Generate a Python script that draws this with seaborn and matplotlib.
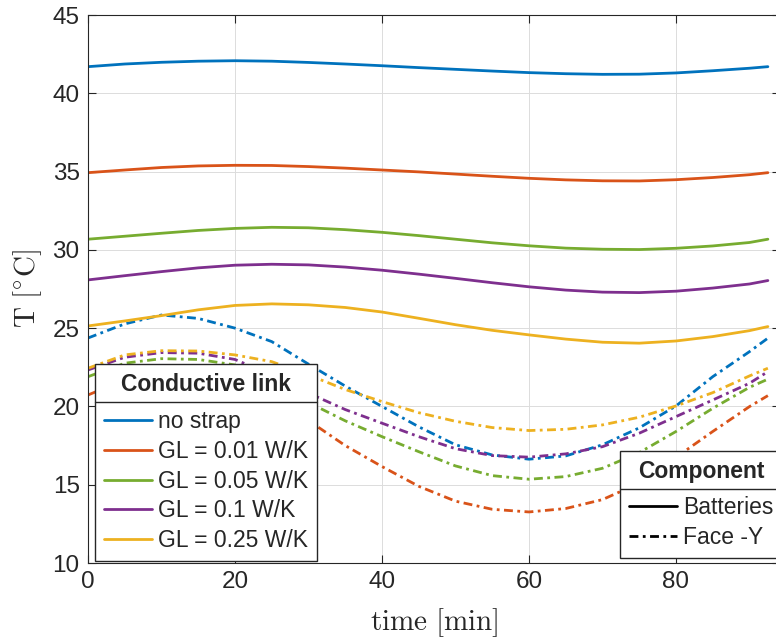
import numpy as np
import pandas as pd
import matplotlib
matplotlib.use('Agg')
import matplotlib.pyplot as plt
from matplotlib.lines import Line2D
import seaborn as sns

# --- Data ---
time_min = [0, 5, 10, 15, 20, 25, 30, 35, 40, 45, 50, 55, 60, 65, 70, 75, 80, 85, 90, 92.5]

link_labels = ['no strap', 'GL = 0.01 W/K', 'GL = 0.05 W/K', 'GL = 0.1 W/K', 'GL = 0.25 W/K']
component_labels = ['Batteries', 'Face -Y']

# Batteries (solid)
bat_no_strap = [41.70, 41.87, 41.98, 42.05, 42.08, 42.05, 41.97, 41.87, 41.76, 41.64,
                41.53, 41.42, 41.32, 41.25, 41.21, 41.22, 41.30, 41.44, 41.60, 41.70]
bat_gl001 = [34.93, 35.10, 35.26, 35.36, 35.40, 35.39, 35.32, 35.22, 35.10, 34.98,
             34.84, 34.70, 34.57, 34.47, 34.41, 34.40, 34.48, 34.62, 34.80, 34.93]
bat_gl005 = [30.68, 30.87, 31.06, 31.24, 31.37, 31.44, 31.41, 31.29, 31.12, 30.91,
             30.68, 30.45, 30.26, 30.11, 30.04, 30.02, 30.10, 30.25, 30.47, 30.68]
bat_gl01 = [28.08, 28.35, 28.61, 28.85, 29.02, 29.08, 29.04, 28.90, 28.70, 28.45,
            28.18, 27.90, 27.64, 27.43, 27.30, 27.27, 27.36, 27.56, 27.82, 28.04]
bat_gl025 = [25.14, 25.46, 25.80, 26.17, 26.45, 26.55, 26.49, 26.32, 26.03, 25.63,
             25.22, 24.86, 24.57, 24.30, 24.10, 24.04, 24.18, 24.46, 24.84, 25.10]

# Face -Y (dash-dot)
face_no_strap = [24.37, 25.27, 25.84, 25.62, 25.00, 24.14, 22.70, 21.30, 20.00, 18.70,
                 17.55, 16.90, 16.63, 16.84, 17.55, 18.63, 20.03, 21.90, 23.50, 24.36]
face_gl001 = [20.73, 21.70, 22.20, 22.10, 21.50, 20.40, 19.10, 17.50, 16.16, 14.90,
              13.95, 13.43, 13.26, 13.48, 14.05, 15.10, 16.75, 18.40, 19.99, 20.69]
face_gl005 = [21.90, 22.76, 23.05, 23.00, 22.65, 21.55, 20.25, 19.08, 18.07, 17.11,
              16.20, 15.58, 15.35, 15.52, 16.05, 17.05, 18.40, 19.88, 21.22, 21.74]
face_gl01 = [22.33, 23.14, 23.44, 23.40, 23.00, 22.00, 20.85, 19.80, 18.93, 18.07,
             17.30, 16.86, 16.76, 16.97, 17.43, 18.29, 19.35, 20.41, 21.48, 22.22]
face_gl025 = [22.44, 23.29, 23.56, 23.54, 23.29, 22.86, 22.01, 21.08, 20.31, 19.60,
              19.05, 18.65, 18.46, 18.54, 18.82, 19.31, 20.03, 20.88, 21.95, 22.44]

batteries = [bat_no_strap, bat_gl001, bat_gl005, bat_gl01, bat_gl025]
face_y = [face_no_strap, face_gl001, face_gl005, face_gl01, face_gl025]

# MATLAB default colour order
colors = ['#0072BD', '#D95319', '#77AC30', '#7E2F8E', '#EDB120']

# --- Long-form table for seaborn ---
rows = []
for lab, bat, face in zip(link_labels, batteries, face_y):
    for t, b, f in zip(time_min, bat, face):
        rows.append({'time': t, 'T': b, 'link': lab, 'component': 'Batteries'})
        rows.append({'time': t, 'T': f, 'link': lab, 'component': 'Face -Y'})
df = pd.DataFrame(rows)

# --- Style ---
sns.set_style('ticks')
plt.rcParams['font.family'] = ['Liberation Sans', 'DejaVu Sans']
plt.rcParams['mathtext.fontset'] = 'cm'
plt.rcParams['axes.edgecolor'] = '#262626'
plt.rcParams['xtick.color'] = '#262626'
plt.rcParams['ytick.color'] = '#262626'

dash_dot = (3.2, 1.6, 1.0, 1.6)
line_w = 2.0
leg_fs = 16.5

fig = plt.figure(figsize=(7.76, 6.41), dpi=100)
ax = fig.add_axes([88 / 776, 78 / 641, 692 / 776, 548 / 641])

sns.lineplot(data=df, x='time', y='T', hue='link', style='component',
             hue_order=link_labels, style_order=component_labels,
             palette=colors, dashes={'Batteries': '', 'Face -Y': dash_dot},
             linewidth=line_w, legend=False, ax=ax, estimator=None, sort=False)

ax.set_xlim(0, 692 / 7.35)
ax.set_ylim(10, 45)
ax.set_xticks([0, 20, 40, 60, 80])
ax.set_yticks([10, 15, 20, 25, 30, 35, 40, 45])
ax.tick_params(direction='in', top=True, right=True, labelsize=17.5, length=6, width=0.8, pad=6)
for s in ax.spines.values():
    s.set_linewidth(0.8)
ax.grid(True, color='#dcdcdc', linewidth=0.7)
ax.set_axisbelow(True)

ax.set_xlabel(r'$\mathrm{time}\ [\mathrm{min}]$', fontsize=21, color='#262626', labelpad=9)
ax.set_ylabel(r'$\mathrm{T}\ [^{\circ}\mathrm{C}]$', fontsize=21, color='#262626', labelpad=6)

# --- Legends ---
leg_kw = dict(loc='lower left', borderaxespad=0, fontsize=leg_fs,
              title_fontproperties={'weight': 'bold', 'size': leg_fs},
              frameon=True, fancybox=False, edgecolor='#262626', framealpha=1,
              handlelength=2.1, handletextpad=0.28, labelspacing=0.30,
              borderpad=0.38)

link_handles = [Line2D([0], [0], color=c, lw=line_w) for c in colors]
leg1 = ax.legend(link_handles, link_labels, title='Conductive link',
                 bbox_to_anchor=(7 / 692, 2 / 548), **leg_kw)
leg1.get_frame().set_linewidth(1.0)
ax.add_artist(leg1)

comp_handles = [Line2D([0], [0], color='black', lw=line_w),
                Line2D([0], [0], color='black', lw=line_w, dashes=dash_dot)]
leg2 = ax.legend(comp_handles, component_labels, title='Component',
                 bbox_to_anchor=(532 / 692, 5 / 548), **leg_kw)
leg2.get_frame().set_linewidth(1.0)

# a bit more room between title and entries, as in MATLAB legends
for leg in (leg1, leg2):
    leg._legend_box.sep = 10

# separator line under each legend title (MATLAB style)
fig.canvas.draw()
renderer = fig.canvas.get_renderer()
inv = fig.transFigure.inverted()
for leg in (leg1, leg2):
    fb = leg.get_frame().get_window_extent(renderer)
    tb = leg.get_title().get_window_extent(renderer)
    y_sep = tb.y0 - 6
    (x0, y0), (x1, _) = inv.transform([(fb.x0, y_sep), (fb.x1, y_sep)])
    fig.add_artist(Line2D([x0, x1], [y0, y0], color='#262626', lw=1.0,
                          transform=fig.transFigure, zorder=10))

fig.savefig('out.png', dpi=100)
